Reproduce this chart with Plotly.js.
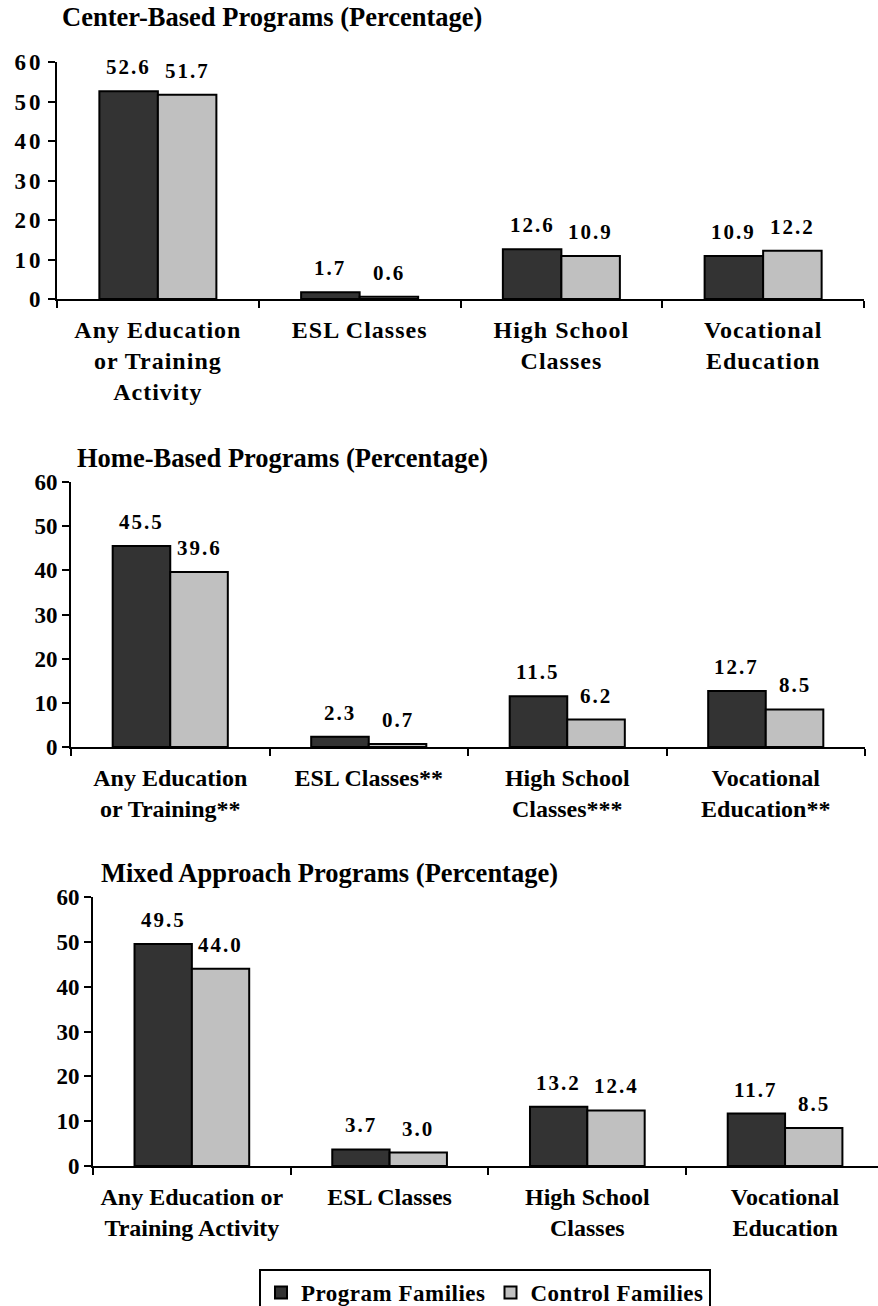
<!DOCTYPE html>
<html>
<head>
<meta charset="utf-8">
<script src="https://cdn.plot.ly/plotly-3.0.1.min.js"></script>
<style>
  html, body { margin: 0; padding: 0; background: #fff; overflow: hidden; }
  #chart { width: 878px; height: 1306px; }
  .xtick text { letter-spacing: 1px; }
  .ytick text { letter-spacing: 3px; }
  .legendtext { letter-spacing: 0.5px; }
</style>
</head>
<body>
<div id="chart"></div>
<script>
// ---- data ----
const panelTitles = [
  'Center-Based Programs (Percentage)',
  'Home-Based Programs (Percentage)',
  'Mixed Approach Programs (Percentage)'
];
const categories1 = ['Any Education<br>or Training<br>Activity', 'ESL Classes', 'High School<br>Classes', 'Vocational<br>Education'];
const categories2 = ['Any Education<br>or Training**', 'ESL Classes**', 'High School<br>Classes***', 'Vocational<br>Education**'];
const categories3 = ['Any Education or<br>Training Activity', 'ESL Classes', 'High School<br>Classes', 'Vocational<br>Education'];
const program1 = [52.6, 1.7, 12.6, 10.9];
const control1 = [51.7, 0.6, 10.9, 12.2];
const program2 = [45.5, 2.3, 11.5, 12.7];
const control2 = [39.6, 0.7, 6.2, 8.5];
const program3 = [49.5, 3.7, 13.2, 11.7];
const control3 = [44.0, 3.0, 12.4, 8.5];
const seriesNames = ['Program Families', 'Control Families'];
const yTickVals = [0, 10, 20, 30, 40, 50, 60];

// ---- styling ----
const W = 878, H = 1306;
const FONT = 'Liberation Serif, Times New Roman, serif';
const darkColor = '#333333';
const lightColor = '#c0c0c0';
const BARGAP = 0.42;

const panels = [
  {cats: categories1, prog: program1, ctrl: control1, title: panelTitles[0],
   px: [57, 864], py: [62, 299], xr: [-0.5, 3.5], tx: 60, ty: 17},
  {cats: categories2, prog: program2, ctrl: control2, title: panelTitles[1],
   px: [71, 865], py: [482, 747], xr: [-0.5, 3.5], tx: 75, ty: 458},
  {cats: categories3, prog: program3, ctrl: control3, title: panelTitles[2],
   px: [93, 878], py: [897, 1166], xr: [-0.5, 3.47], tx: 99, ty: 873}
];

const traces = [];
const annotations = [];
const layout = {
  width: W, height: H,
  margin: {l: 0, r: 0, t: 0, b: 0, autoexpand: false},
  paper_bgcolor: '#fff', plot_bgcolor: '#fff',
  barmode: 'group', bargap: BARGAP, bargroupgap: 0,
  font: {family: FONT, color: '#000', size: 22, weight: 700},
  showlegend: true,
  legend: {
    orientation: 'h', x: 259 / W, xanchor: 'left', y: 1 - 1269 / H, yanchor: 'top',
    bgcolor: '#fff', bordercolor: '#000', borderwidth: 2,
    font: {family: FONT, size: 23, color: '#000', weight: 700},
    itemwidth: 30, traceorder: 'normal', tracegroupgap: 0
  },
  annotations: annotations
};

const half = (1 - BARGAP) / 4;

panels.forEach((p, i) => {
  const sfx = i === 0 ? '' : String(i + 1);
  const xa = 'x' + sfx, ya = 'y' + sfx;
  traces.push({
    type: 'bar', name: seriesNames[0], x: p.cats, y: p.prog,
    xaxis: xa, yaxis: ya, showlegend: i === 0, legendgroup: 'p',
    marker: {color: darkColor, line: {color: '#000', width: 2}},
    hoverinfo: 'none'
  });
  traces.push({
    type: 'bar', name: seriesNames[1], x: p.cats, y: p.ctrl,
    xaxis: xa, yaxis: ya, showlegend: i === 0, legendgroup: 'c',
    marker: {color: lightColor, line: {color: '#000', width: 2}},
    hoverinfo: 'none'
  });
  layout['xaxis' + sfx] = {
    type: 'category', categoryorder: 'array', categoryarray: p.cats,
    domain: [p.px[0] / W, p.px[1] / W], range: p.xr, anchor: ya,
    showline: true, linecolor: '#000', linewidth: 2,
    ticks: 'outside', tickson: 'boundaries', ticklen: 7, tickwidth: 2, tickcolor: '#000',
    showgrid: false, zeroline: false, fixedrange: true,
    tickfont: {family: FONT, size: 24, color: '#000', weight: 700},
    ticklabelstandoff: 8
  };
  layout['yaxis' + sfx] = {
    domain: [1 - p.py[1] / H, 1 - p.py[0] / H], range: [0, 60], anchor: xa,
    tickvals: yTickVals, ticks: 'outside', ticklen: 7, tickwidth: 2, tickcolor: '#000',
    showline: true, linecolor: '#000', linewidth: 2,
    showgrid: false, zeroline: false, fixedrange: true,
    tickfont: {family: FONT, size: 23, color: '#000', weight: 700}
  };
  annotations.push({
    xref: 'paper', yref: 'paper', x: p.tx / W, y: 1 - p.ty / H,
    xanchor: 'left', yanchor: 'middle', showarrow: false,
    text: p.title, font: {family: FONT, size: 26.5, color: '#000', weight: 700}
  });
  [p.prog, p.ctrl].forEach((vals, s) => {
    vals.forEach((v, k) => {
      annotations.push({
        xref: xa, yref: ya, x: k + (s === 0 ? -half : half), y: v,
        xanchor: 'center', yanchor: 'middle', yshift: 24, showarrow: false,
        text: '<span style="letter-spacing:2px">' + v.toFixed(1) + '</span>',
        font: {family: FONT, size: 21, color: '#000', weight: 700}
      });
    });
  });
});

Plotly.newPlot('chart', traces, layout, {staticPlot: true, displayModeBar: false});
</script>
</body>
</html>
